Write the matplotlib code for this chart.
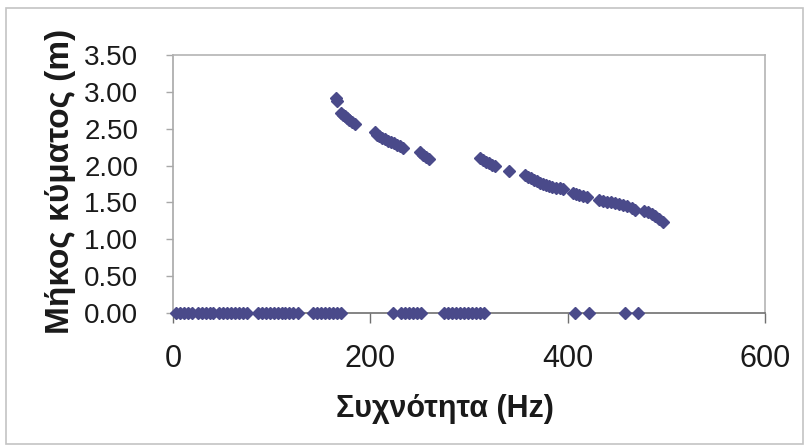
import matplotlib.pyplot as plt  # Importing matplotlib for plotting
from matplotlib.patches import Rectangle  # Importing Rectangle for the outer chart frame

# Frequencies (Hz) of the points that sit on zero
freq_zero = [3, 7, 11, 15, 19,
             25, 29, 33, 37, 41,
             47, 51, 55, 59, 63, 67, 71, 75,
             86, 90, 94, 98, 102, 106, 110, 114, 118, 122, 127,
             142, 146, 150, 154, 158, 162, 166, 170,
             223,
             231, 235, 239, 243, 247, 251,
             275, 279, 283, 287, 291, 295, 299, 303, 307, 311, 315,
             407, 422, 458, 471]
wave_zero = [0.0] * len(freq_zero)

# Frequencies (Hz) and wavelengths (m) of the curve
freq_curve = [165, 166,
              170, 172, 174, 176, 178, 181, 184,
              205, 207, 209, 212, 215, 218, 221, 224, 227, 230, 233,
              250, 253, 256, 259,
              311, 314, 317, 320, 323, 326,
              341,
              357, 360, 363, 366, 369, 372, 375, 378, 381, 384, 388, 392, 395,
              405, 408, 412, 416, 420,
              432, 436, 440, 444, 448, 452, 456,
              460, 465, 468,
              477, 481, 485, 489, 493, 497]
wave_curve = [2.92, 2.87,
              2.72, 2.69, 2.67, 2.64, 2.62, 2.59, 2.56,
              2.45, 2.42, 2.40, 2.38, 2.36, 2.34, 2.32, 2.30, 2.28, 2.26, 2.24,
              2.18, 2.15, 2.12, 2.09,
              2.10, 2.07, 2.05, 2.03, 2.01, 1.99,
              1.93,
              1.87, 1.85, 1.83, 1.81, 1.79, 1.77, 1.75, 1.74, 1.72, 1.71, 1.70, 1.69, 1.68,
              1.63, 1.61, 1.60, 1.59, 1.58,
              1.53, 1.52, 1.51, 1.50, 1.49, 1.48, 1.47,
              1.45, 1.42, 1.40,
              1.39, 1.37, 1.35, 1.32, 1.28, 1.24]

x_ticks = [0, 200, 400, 600]
y_ticks = [0.0, 0.5, 1.0, 1.5, 2.0, 2.5, 3.0, 3.5]

# Text
x_label = 'Συχνότητα (Hz)'
y_label = 'Μήκος κύματος (m)'

plt.rcParams['font.family'] = ['Liberation Sans', 'DejaVu Sans']

marker_color = '#4a4a8a'

# Create figure and axes
fig = plt.figure(figsize=(8.05, 4.48), dpi=100)
ax = fig.add_axes([0.2149, 0.3013, 0.7354, 0.5759])

# Outer frame of the chart
fig.patches.append(Rectangle((6 / 805, 1 - 444 / 448), 797 / 805, 436 / 448,
                             transform=fig.transFigure, fill=False,
                             edgecolor='#c4c4c4', linewidth=1.2))

# Scatter points
ax.plot(freq_zero, wave_zero, linestyle='none', marker='D', markersize=6.5,
        color=marker_color, clip_on=False, zorder=3)
ax.plot(freq_curve, wave_curve, linestyle='none', marker='D', markersize=6.5,
        color=marker_color, clip_on=False, zorder=3)

# Axis limits and ticks
ax.set_xlim(0, 600)
ax.set_ylim(0, 3.5)
ax.set_xticks(x_ticks)
ax.set_xticklabels([str(v) for v in x_ticks])
ax.set_yticks(y_ticks)
ax.set_yticklabels(['%.2f' % v for v in y_ticks])

# Spines like Excel plot area
ax.spines['bottom'].set_color('#707070')
ax.spines['left'].set_color('#a8a8a8')
ax.spines['top'].set_color('#b4b4b4')
ax.spines['right'].set_color('#b4b4b4')
for s in ax.spines.values():
    s.set_linewidth(1.2)

ax.tick_params(axis='x', direction='out', length=7, width=1, color='#707070',
               labelsize=22, pad=15, labelcolor='#1a1a1a')
ax.tick_params(axis='y', direction='out', length=5, width=1, color='#a8a8a8',
               labelsize=20, pad=20, labelcolor='#1a1a1a')

# Axis labels
ax.set_xlabel(x_label, fontsize=22, fontweight='bold', color='#1a1a1a')
ax.set_ylabel(y_label, fontsize=24, fontweight='bold', color='#1a1a1a')
ax.xaxis.set_label_coords(0.46, -0.315)
ax.yaxis.set_label_coords(-0.163, 0.51)

# Save figure
fig.savefig('out.png', dpi=100)
